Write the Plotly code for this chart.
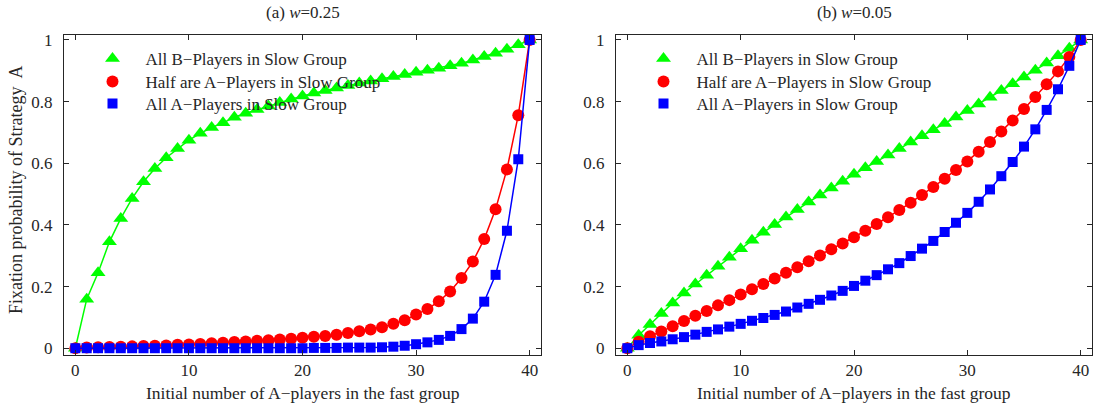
import plotly.graph_objects as go

x_vals = list(range(41))

# (a) w = 0.25
a_allB = [0.000, 0.159, 0.245, 0.345, 0.421, 0.486, 0.540, 0.583, 0.618, 0.648,
          0.675, 0.697, 0.716, 0.731, 0.749, 0.762, 0.774, 0.786, 0.797, 0.808,
          0.818, 0.828, 0.836, 0.844, 0.852, 0.860, 0.867, 0.874, 0.881, 0.888,
          0.895, 0.902, 0.908, 0.916, 0.924, 0.935, 0.946, 0.957, 0.970, 0.984, 1.000]
a_half = [0.000, 0.002, 0.003, 0.004, 0.005, 0.006, 0.007, 0.008, 0.009, 0.011,
          0.012, 0.014, 0.016, 0.018, 0.020, 0.022, 0.024, 0.026, 0.028, 0.031,
          0.034, 0.037, 0.040, 0.044, 0.049, 0.055, 0.061, 0.068, 0.079, 0.091,
          0.109, 0.127, 0.152, 0.184, 0.228, 0.281, 0.354, 0.451, 0.580, 0.756, 1.000]
a_allA = [0.000, 0.000, 0.000, 0.000, 0.000, 0.000, 0.000, 0.000, 0.000, 0.000,
          0.000, 0.000, 0.000, 0.000, 0.000, 0.000, 0.000, 0.000, 0.000, 0.000,
          0.000, 0.001, 0.001, 0.001, 0.002, 0.002, 0.002, 0.003, 0.005, 0.008,
          0.013, 0.019, 0.027, 0.040, 0.062, 0.096, 0.151, 0.238, 0.381, 0.613, 1.000]

# (b) w = 0.05
b_allB = [0.000, 0.042, 0.077, 0.113, 0.147, 0.179, 0.208, 0.237, 0.266, 0.295,
          0.323, 0.350, 0.376, 0.401, 0.426, 0.450, 0.474, 0.497, 0.520, 0.542,
          0.564, 0.585, 0.606, 0.627, 0.648, 0.669, 0.689, 0.709, 0.729, 0.750,
          0.771, 0.792, 0.814, 0.836, 0.858, 0.880, 0.902, 0.925, 0.949, 0.973, 1.000]
b_half = [0.000, 0.021, 0.039, 0.054, 0.071, 0.088, 0.105, 0.121, 0.139, 0.156,
          0.174, 0.191, 0.208, 0.226, 0.245, 0.263, 0.282, 0.301, 0.321, 0.340,
          0.360, 0.381, 0.403, 0.425, 0.448, 0.472, 0.497, 0.523, 0.550, 0.578,
          0.606, 0.637, 0.669, 0.703, 0.739, 0.776, 0.815, 0.856, 0.898, 0.945, 1.000]
b_allA = [0.000, 0.010, 0.017, 0.022, 0.029, 0.036, 0.044, 0.053, 0.061, 0.070,
          0.079, 0.089, 0.098, 0.108, 0.119, 0.132, 0.144, 0.157, 0.171, 0.186,
          0.202, 0.219, 0.237, 0.256, 0.276, 0.299, 0.323, 0.348, 0.377, 0.407,
          0.439, 0.475, 0.515, 0.558, 0.604, 0.654, 0.710, 0.773, 0.840, 0.916, 1.000]

series_names = ["All B\u2212Players in Slow Group",
                "Half are A\u2212Players in Slow Group",
                "All A\u2212Players in Slow Group"]
colors = ["#00ff00", "#ff0000", "#0000ff"]
symbols = ["triangle-up", "circle", "square"]
sizes = [13, 12, 10]

panel_titles = ["(a) <i>w</i>=0.25", "(b) <i>w</i>=0.05"]
x_title = "Initial number of A\u2212players in the fast group"
y_title = "Fixation probability of Strategy\u00a0 A"
x_tick_vals = [0, 10, 20, 30, 40]
y_tick_vals = [0, 0.2, 0.4, 0.6, 0.8, 1]
y_tick_text = ["0", "0.2", "0.4", "0.6", "0.8", "1"]

FONT = "Liberation Serif"
FS = 17
TXT = "#262626"

W, H = 1094, 411
ml, mr, mt, mb = 64, 2, 35, 56
pw = W - ml - mr
ph = H - mt - mb

def px2x(px):
    return (px - ml) / pw

def px2y(py):
    return 1 - (py - mt) / ph

panel_px = [(64, 541), (616, 1092)]
legend_left_px = [79.5, 630.5]
legend_rows_px = [59, 82, 104]

fig = go.Figure()
legend_layout = {}

panels = [(a_allB, a_half, a_allA), (b_allB, b_half, b_allA)]
for p, data in enumerate(panels):
    xa = "x" if p == 0 else "x2"
    ya = "y" if p == 0 else "y2"
    for s in range(3):
        k = p * 3 + s + 1
        lg = "legend" if k == 1 else "legend%d" % k
        fig.add_trace(go.Scatter(
            x=x_vals, y=data[s], mode="lines", xaxis=xa, yaxis=ya,
            line=dict(color=colors[s], width=1.5), showlegend=False,
            hoverinfo="skip"))
        fig.add_trace(go.Scatter(
            x=x_vals, y=data[s], mode="markers", xaxis=xa, yaxis=ya,
            name=series_names[s], legend=lg,
            marker=dict(color=colors[s], symbol=symbols[s], size=sizes[s],
                        line=dict(width=0))))
        legend_layout[lg] = dict(
            x=px2x(legend_left_px[p]), y=px2y(legend_rows_px[s]),
            xanchor="left", yanchor="middle",
            font=dict(family=FONT, size=FS, color=TXT),
            bgcolor="rgba(0,0,0,0)", borderwidth=0, itemwidth=56)

axis_common = dict(
    range=[-1, 41], tickvals=x_tick_vals, ticks="inside", ticklen=5,
    tickcolor=TXT, showline=True, linecolor=TXT, linewidth=1, mirror="ticks",
    showgrid=False, zeroline=False, automargin=False,
    tickfont=dict(family=FONT, size=FS, color=TXT),
)
yaxis_common = dict(
    range=[-0.022, 1.016], tickvals=y_tick_vals, ticktext=y_tick_text,
    ticks="inside", ticklen=5, tickcolor=TXT, showline=True, linecolor=TXT,
    linewidth=1, mirror="ticks", showgrid=False, zeroline=False, automargin=False,
    ticklabelstandoff=7,
    tickfont=dict(family=FONT, size=FS, color=TXT),
)

fig.update_layout(
    width=W, height=H,
    margin=dict(l=ml, r=mr, t=mt, b=mb, autoexpand=False),
    paper_bgcolor="white", plot_bgcolor="white",
    xaxis=dict(domain=[0, (541 - 64) / pw], anchor="y", **axis_common),
    xaxis2=dict(domain=[(616 - 64) / pw, 1], anchor="y2", **axis_common),
    yaxis=dict(domain=[0, 1], anchor="x", **yaxis_common),
    yaxis2=dict(domain=[0, 1], anchor="x2", **yaxis_common),
    **legend_layout,
)

for p, t in enumerate(panel_titles):
    cx = (panel_px[p][0] + panel_px[p][1]) / 2
    fig.add_annotation(text=t, x=px2x(cx), y=px2y(12), xref="paper", yref="paper",
                       showarrow=False, xanchor="center", yanchor="middle",
                       font=dict(family=FONT, size=FS, color=TXT))
    fig.add_annotation(text=x_title, x=px2x(cx), y=px2y(393), xref="paper",
                       yref="paper", showarrow=False, xanchor="center",
                       yanchor="middle", font=dict(family=FONT, size=17.5, color=TXT))

fig.add_annotation(text=y_title, x=px2x(16), y=px2y(190), xref="paper",
                   yref="paper", showarrow=False, xanchor="center",
                   yanchor="middle", textangle=-90,
                   font=dict(family=FONT, size=18, color=TXT))

# remove the default 8px page margin so the figure sits at the window origin
fig.write_html("out.html",
               config={"displayModeBar": False},
               post_script="document.body.style.margin='0';"
                           "document.body.style.overflow='hidden';")
